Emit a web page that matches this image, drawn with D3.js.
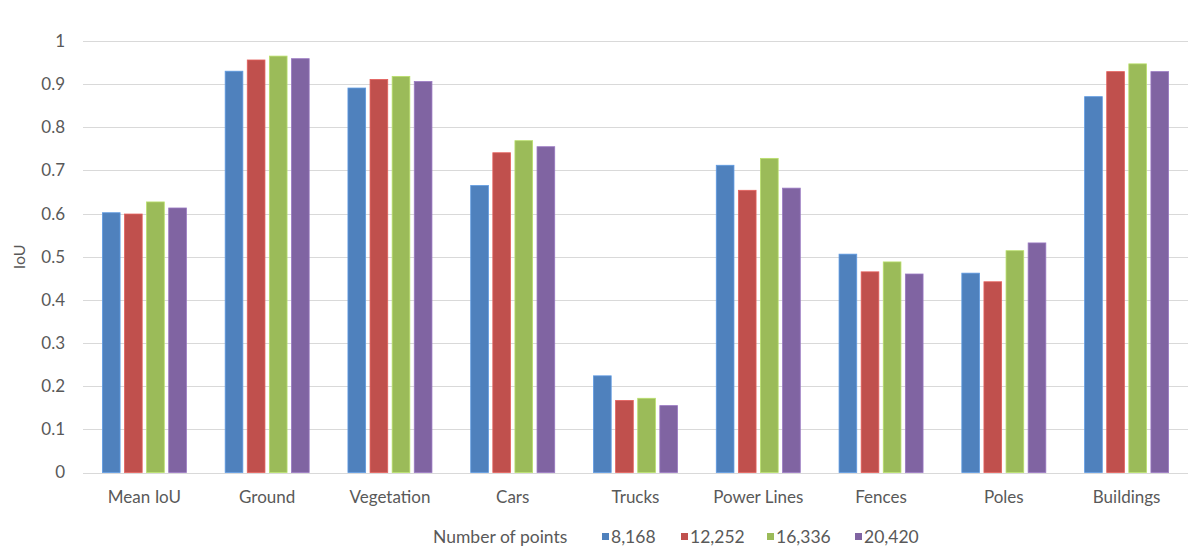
<!DOCTYPE html>
<html>
<head>
<meta charset="utf-8">
<script src="https://cdn.jsdelivr.net/npm/d3@7"></script>
<style>
  html, body { margin: 0; padding: 0; background: #fff; }
  svg { display: block; }
  text { font-family: Lato, "Open Sans", sans-serif; fill: #595959; }
</style>
</head>
<body>
<svg id="chart" width="1193" height="559"></svg>
<script>
// IoU per class for each point-count setting
const categories = ["Mean IoU", "Ground", "Vegetation", "Cars", "Trucks", "Power Lines", "Fences", "Poles", "Buildings"];
const seriesNames = ["8,168", "12,252", "16,336", "20,420"];
const seriesColors = ["#4F81BD", "#C0504D", "#9BBB59", "#8064A2"];
const values8168  = [0.602, 0.930, 0.891, 0.665, 0.224, 0.712, 0.506, 0.462, 0.871];
const values12252 = [0.599, 0.956, 0.911, 0.741, 0.167, 0.654, 0.465, 0.442, 0.929];
const values16336 = [0.627, 0.965, 0.918, 0.769, 0.172, 0.728, 0.488, 0.514, 0.947];
const values20420 = [0.613, 0.959, 0.906, 0.755, 0.155, 0.659, 0.460, 0.532, 0.929];
const yTicks = [0, 0.1, 0.2, 0.3, 0.4, 0.5, 0.6, 0.7, 0.8, 0.9, 1];
const yTitle = "IoU";
const legendTitle = "Number of points";

const seriesValues = [values8168, values12252, values16336, values20420];

const svg = d3.select("#chart");
const plot = { left: 83, right: 1188, top: 41, bottom: 472.5 };

const x = d3.scaleBand().domain(categories).range([plot.left, plot.right]).padding(0);
const groupWidth = 84;
const xInner = d3.scaleBand().domain(seriesNames)
  .range([-groupWidth / 2, groupWidth / 2]).paddingInner(0.2).paddingOuter(0);
const y = d3.scaleLinear().domain([0, 1]).range([plot.bottom, plot.top]);

// Horizontal gridlines
svg.append("g").selectAll("line").data(yTicks).join("line")
  .attr("x1", plot.left).attr("x2", plot.right)
  .attr("y1", d => Math.round(y(d)) + 0.5).attr("y2", d => Math.round(y(d)) + 0.5)
  .attr("stroke", "#D9D9D9").attr("stroke-width", 1);

// Y axis tick labels
const yAxis = d3.axisLeft(y).tickValues(yTicks).tickSize(0).tickPadding(0)
  .tickFormat(d => d3.format("")(+d.toFixed(1)));
svg.append("g").attr("transform", `translate(65,0)`).call(yAxis)
  .call(g => g.select(".domain").remove())
  .call(g => g.selectAll("text").attr("font-size", 17).attr("fill", "#595959")
    .style("font-family", "Lato, 'Open Sans', sans-serif"));

// Y axis title
svg.append("text")
  .attr("transform", `translate(25,${(plot.top + plot.bottom) / 2}) rotate(-90)`)
  .attr("text-anchor", "middle").attr("font-size", 16)
  .text(yTitle);

// Bars
const groups = svg.append("g").selectAll("g").data(categories).join("g")
  .attr("transform", d => `translate(${x(d) + x.bandwidth() / 2},0)`);
groups.selectAll("rect")
  .data((c, i) => seriesNames.map((s, k) => ({ s, k, v: seriesValues[k][i] })))
  .join("rect")
  .attr("x", d => xInner(d.s))
  .attr("width", xInner.bandwidth())
  .attr("y", d => y(d.v))
  .attr("height", d => y(0) - y(d.v))
  .attr("fill", d => seriesColors[d.k])
  .attr("stroke", d => d3.color(seriesColors[d.k]).brighter(0.5))
  .attr("stroke-width", 0.8);

// Category labels
const xAxis = d3.axisBottom(x).tickSize(0).tickPadding(0);
svg.append("g").attr("transform", `translate(0,${plot.bottom + 18})`).call(xAxis)
  .call(g => g.select(".domain").remove())
  .call(g => g.selectAll("text").attr("font-size", 17).attr("fill", "#595959")
    .attr("dy", "0.71em")
    .style("font-family", "Lato, 'Open Sans', sans-serif"));

// Legend
const legend = svg.append("g").attr("transform", "translate(0,537)");
legend.append("text").attr("x", 433).attr("y", 0).attr("dy", "0.35em")
  .attr("font-size", 17.5).text(legendTitle);
const legendX = [602, 681, 767, 855];
const items = legend.selectAll("g.item").data(seriesNames).join("g")
  .attr("class", "item")
  .attr("transform", (d, i) => `translate(${legendX[i]},0)`);
items.append("rect").attr("x", 0).attr("y", -4).attr("width", 7).attr("height", 7)
  .attr("fill", (d, i) => seriesColors[i]);
items.append("text").attr("x", 9).attr("y", 0).attr("dy", "0.35em")
  .attr("font-size", 17.5).text(d => d);
</script>
</body>
</html>
